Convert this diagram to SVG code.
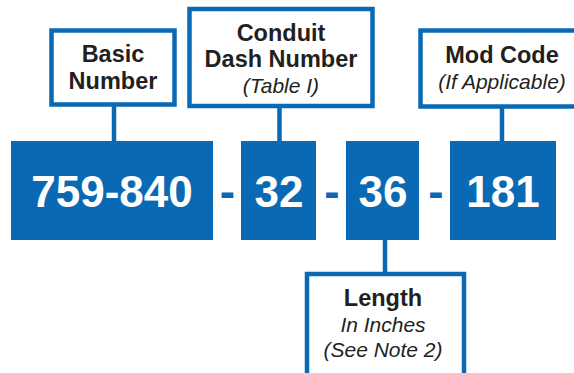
<svg xmlns="http://www.w3.org/2000/svg" width="574" height="373" viewBox="0 0 574 373">
<style>
.lbl{fill:#fff;stroke:#0a69b4;stroke-width:4.5}
.blk{fill:#0a69b4}
.b{font-family:"Liberation Sans",Arial,sans-serif;font-weight:bold;font-size:23.5px;fill:#231f20;text-anchor:middle}
.i{font-family:"Liberation Sans",Arial,sans-serif;font-style:italic;font-size:21px;fill:#231f20;text-anchor:middle}
.n{font-family:"Liberation Sans",Arial,sans-serif;font-weight:bold;font-size:44px;fill:#fff;text-anchor:middle}
.d{font-family:"Liberation Sans",Arial,sans-serif;font-weight:bold;font-size:46px;fill:#0a69b4;text-anchor:middle}
.c{stroke:#0a69b4;stroke-width:4.5;fill:none}
</style>
<rect width="574" height="373" fill="#fff"/>
<g id="connectors">
<line class="c" x1="114" y1="106" x2="114" y2="142"/>
<line class="c" x1="279.5" y1="106" x2="279.5" y2="142"/>
<line class="c" x1="502" y1="106" x2="502" y2="142"/>
<line class="c" x1="385" y1="239" x2="385" y2="274"/>
</g>
<g id="basic-number">
<rect class="lbl" x="51.5" y="30.5" width="123" height="74"/>
<text class="b" x="113" y="62">Basic</text>
<text class="b" x="113" y="89">Number</text>
</g>
<g id="conduit-dash-number">
<rect class="lbl" x="189.5" y="9" width="183" height="97"/>
<text class="b" x="281" y="40.5">Conduit</text>
<text class="b" x="281" y="66.5">Dash Number</text>
<text class="i" x="281" y="93">(Table I)</text>
</g>
<g id="mod-code">
<rect class="lbl" x="420.5" y="30.5" width="170" height="76"/>
<text class="b" x="502" y="63">Mod Code</text>
<text class="i" x="502" y="89">(If Applicable)</text>
</g>
<g id="length">
<rect class="lbl" x="307" y="274" width="157" height="110"/>
<text class="b" x="383" y="306">Length</text>
<text class="i" x="383" y="332">In Inches</text>
<text class="i" x="383" y="357">(See Note 2)</text>
</g>
<g id="part-759-840">
<rect class="blk" x="11" y="141" width="202" height="99"/>
<text class="n" x="112" y="207">759-840</text>
</g>
<text class="d" x="227.5" y="207">-</text>
<g id="part-32">
<rect class="blk" x="241" y="141" width="75" height="99"/>
<text class="n" x="279" y="207">32</text>
</g>
<text class="d" x="332" y="207">-</text>
<g id="part-36">
<rect class="blk" x="346" y="141" width="73" height="99"/>
<text class="n" x="383" y="207">36</text>
</g>
<text class="d" x="436" y="207">-</text>
<g id="part-181">
<rect class="blk" x="450" y="141" width="106" height="99"/>
<text class="n" x="503" y="207">181</text>
</g>
</svg>
